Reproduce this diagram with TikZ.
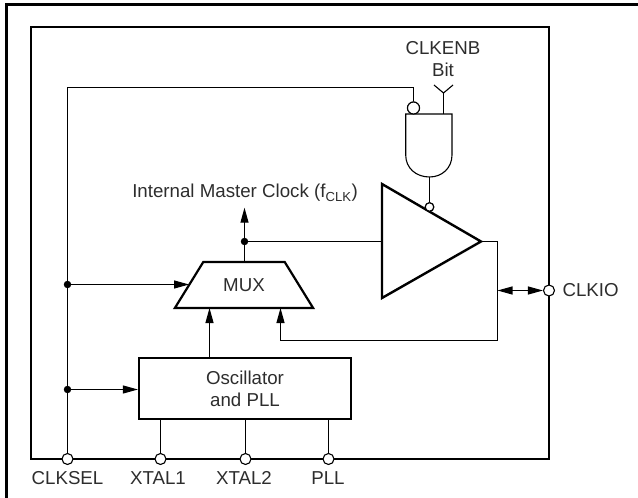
\documentclass[tikz,border=0pt]{standalone}
\usepackage{fontspec}
\setmainfont{Liberation Sans}
\usetikzlibrary{arrows.meta,positioning,shapes.geometric}
\definecolor{labelgray}{RGB}{45,45,45}
\tikzset{
  % 1 unit = 1 pixel of the page
  every picture/.style={x=1pt, y=-1pt},
  every node/.append style={font=\fontsize{18.7}{22}\selectfont, text=labelgray},
}

\begin{document}
\begin{tikzpicture}[
        box/.style={draw, line width=2.2pt, minimum width=212pt, minimum height=61pt, align=center},
        mux/.style={draw, line width=2.2pt, trapezium, trapezium stretches=true, trapezium left angle=42, trapezium right angle=42, inner sep=0pt, outer sep=0pt, minimum width=139pt, minimum height=46pt},
        thickline/.style={line width=2.4pt, line join=miter},
        wire/.style={line width=1.1pt},
        arrow/.style={wire, -{Triangle[length=15pt, width=8pt]}},
        biarrow/.style={wire, {Triangle[length=15pt, width=8pt]}-{Triangle[length=15pt, width=8pt]}},
        pin/.style={draw, circle, fill=white, line width=1.1pt, inner sep=0pt, minimum size=11pt},
        bubble/.style={draw, circle, fill=white, line width=1.1pt, inner sep=0pt, minimum size=8.5pt},
        dot/.style={fill, circle, inner sep=0pt, minimum size=7.5pt}
    ]
        \useasboundingbox (0, 0) rectangle (638, 498);

        % page edge and chip outline
        \draw[line width=3pt] (6.5, 498) -- (6.5, 4.5) -- (638, 4.5);
        \draw[thickline] (31, 27) rectangle (549, 459);

        % fixed points of the wiring
        \coordinate (topL) at (67.5, 87.5);
        \coordinate (topR) at (413.5, 87.5);
        \coordinate (triTop) at (382, 184);
        \coordinate (triBot) at (382, 298);
        \coordinate (triTip) at (481, 241.5);
        \coordinate (bitIn) at (443.5, 93);
        \coordinate (bitL) at (434, 85);
        \coordinate (bitR) at (453, 85);
        \coordinate (gateIn) at (443.5, 114);
        \coordinate (gateOut) at (429.5, 177);
        \coordinate (outR) at (497.5, 241.5);
        \coordinate (loopR) at (497.5, 340.5);
        \coordinate (loopL) at (280.5, 340.5);
        \coordinate (muxInB) at (280.5, 308);
        \coordinate (muxInA) at (209.5, 308);
        \coordinate (clkOut) at (244.5, 207.7);
        \coordinate (junIO) at (497.5, 290.5);

        % blocks
        \node[box] (osc) at (245, 388.5) {Oscillator\\and PLL};
        \node[mux] (muxbox) at (244, 285) {MUX};

        % wires behind the gate and amplifier
        \node[dot] (dotMux) at (67.5, 284.5) {};
        \node[dot] (dotOsc) at (67.5, 389.5) {};
        \node[dot] (dotClk) at (244.5, 241.5) {};
        \node[pin] (pinSel) at (67.5, 459) {};
        \node[pin] (pinX1) at (160.5, 459) {};
        \node[pin] (pinX2) at (245.5, 459) {};
        \node[pin] (pinPll) at (328.5, 459) {};
        \node[pin] (pinIO) at (549, 290.5) {};
        \node[bubble, minimum size=12pt] (bubSel) at (413.5, 108) {};
        \node[bubble] (bubEn) at (429.5, 207) {};

        \draw[wire] (pinSel) -- (topL) -- (topR) -- (bubSel);
        \draw[wire] (gateIn) -- (bitIn);
        \draw[wire] (bitL) -- (bitIn) -- (bitR);
        \draw[wire] (gateOut) -- (bubEn);
        \draw[wire] (dotClk) -- (dotClk -| triTop);
        \draw[wire] (muxbox.north -| dotClk) -- (dotClk);
        \draw[arrow] (dotClk) -- (clkOut);
        \draw[arrow] (dotMux) -- (dotMux -| muxbox.left side);
        \draw[arrow] (dotOsc) -- (dotOsc -| osc.west);
        \draw[arrow] (muxInA |- osc.north) -- (muxInA);
        \draw[arrow] (loopR) -- (loopL) -- (muxInB);
        \draw[wire] (triTip) -- (outR) -- (loopR);
        \draw[biarrow] (junIO) -- (pinIO);
        \draw[wire] (pinX1) -- (pinX1 |- osc.south);
        \draw[wire] (pinX2) -- (pinX2 |- osc.south);
        \draw[wire] (pinPll) -- (pinPll |- osc.south);

        % gate and amplifier
        \draw[wire, fill=white] (405.7, 114) -- (452, 114) -- (452, 155)
            .. controls (452, 168) and (442, 177) .. (gateOut)
            .. controls (416, 177) and (405.7, 168) .. (405.7, 155) -- cycle;
        \draw[thickline] (triTop) -- (triTip) -- (triBot) -- cycle;
        \node[bubble, minimum size=12pt] at (bubSel) {};
        \node[bubble] at (bubEn) {};

        % labels
        \node[align=center] (lblBit) at (443, 59) {CLKENB\\Bit};
        \node (lblClk) at (245, 193) {Internal Master Clock (f\textsubscript{CLK})};
        \node[anchor=west] (lblIO) at (559, 290.5) {CLKIO};
        \node (lblSel) at (67.5, 478) {CLKSEL};
        \node (lblX1) at (158, 478) {XTAL1};
        \node (lblX2) at (244, 478) {XTAL2};
        \node (lblPll) at (328, 478) {PLL};
    \end{tikzpicture}
\end{document}
